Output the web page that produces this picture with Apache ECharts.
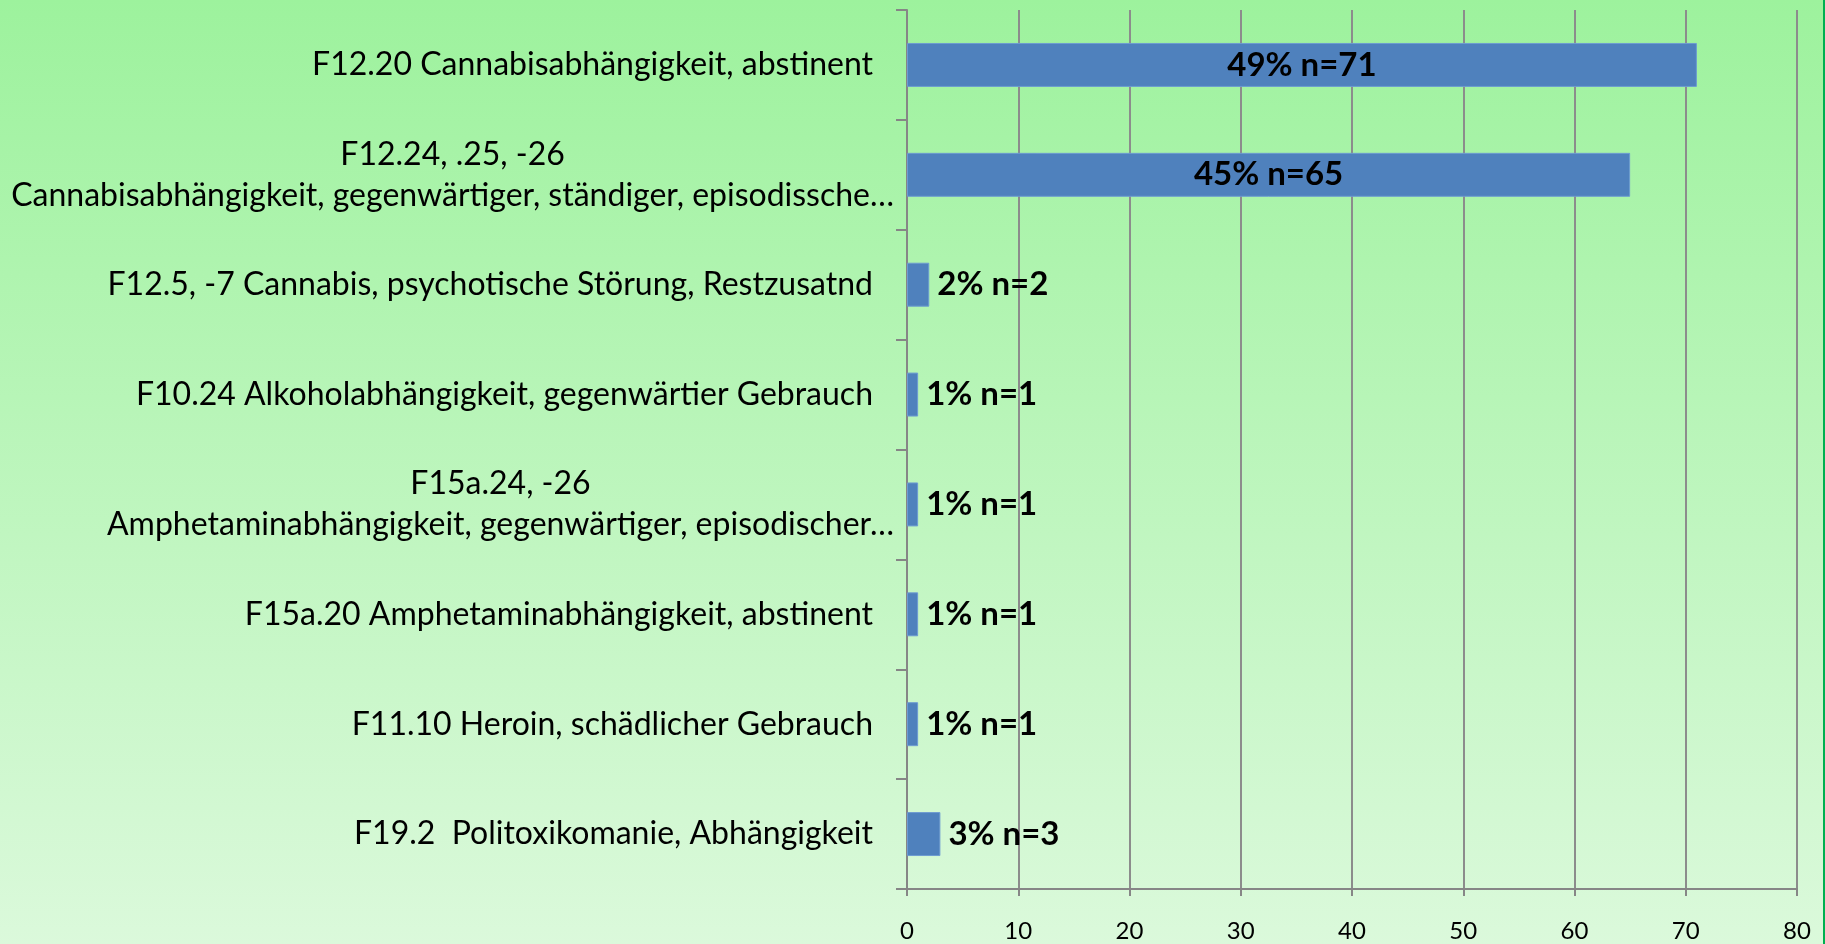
<!DOCTYPE html>
<html>
<head>
<meta charset="utf-8">
<script src="https://cdn.jsdelivr.net/npm/echarts@6/dist/echarts.min.js"></script>
<style>
  html, body { margin: 0; padding: 0; }
  body { width: 1825px; height: 944px; overflow: hidden;
         background: linear-gradient(to bottom, rgb(157,242,157) 0%, rgb(219,249,219) 100%); }
  #wrap { width: 1823px; height: 944px; border-right: 2px solid #00b050; }
  #chart { width: 1823px; height: 944px; }
</style>
</head>
<body>
<div id="wrap"><div id="chart"></div></div>
<script>
const categories = [
  'F12.20 Cannabisabhängigkeit, abstinent',
  'F12.24, .25, -26\nCannabisabhängigkeit, gegenwärtiger, ständiger, episodissche…',
  'F12.5, -7 Cannabis, psychotische Störung, Restzusatnd',
  'F10.24 Alkoholabhängigkeit, gegenwärtier Gebrauch',
  'F15a.24, -26\nAmphetaminabhängigkeit, gegenwärtiger, episodischer…',
  'F15a.20 Amphetaminabhängigkeit, abstinent',
  'F11.10 Heroin, schädlicher Gebrauch',
  'F19.2  Politoxikomanie, Abhängigkeit'
];
const counts = [71, 65, 2, 1, 1, 1, 1, 3];
const percents = ['49%', '45%', '2%', '1%', '1%', '1%', '1%', '3%'];
const xMin = 0, xMax = 80, xStep = 10;

const chart = echarts.init(document.getElementById('chart'), null, { renderer: 'canvas' });
const FONT = 'Lato, "Open Sans", sans-serif';
const LABEL_SIZE = 32;

const seriesData = counts.map(function (v) {
  return { value: v, label: { position: v > 10 ? 'inside' : 'right' } };
});

chart.setOption({
  animation: false,
  backgroundColor: 'transparent',
  grid: { left: 907, top: 10, right: 26, bottom: 55, containLabel: false },
  xAxis: {
    type: 'value', min: xMin, max: xMax, interval: xStep,
    axisLine: { show: true, lineStyle: { color: '#868686', width: 2 } },
    axisTick: { show: true, length: 7, lineStyle: { color: '#868686', width: 2 } },
    splitLine: { show: true, lineStyle: { color: '#8c8c8c', width: 2 } },
    axisLabel: { color: '#000', fontFamily: FONT, fontSize: 24, margin: 30 }
  },
  yAxis: {
    type: 'category', inverse: true, data: categories,
    axisLine: { show: true, lineStyle: { color: '#868686', width: 2 } },
    axisTick: { show: true, length: 11, lineStyle: { color: '#868686', width: 2 } },
    splitLine: { show: false },
    axisLabel: {
      margin: 13, align: 'right', color: '#000', fontFamily: FONT, fontSize: LABEL_SIZE,
      lineHeight: 41,
      formatter: function (val) {
        const lines = val.split('\n');
        if (lines.length === 1) return '{s|' + val + '}';
        return lines.map(function (l) { return '{c|' + l + '}'; }).join('\n');
      },
      rich: {
        s: { fontFamily: FONT, fontSize: LABEL_SIZE, color: '#000', padding: [0, 21, 0, 0], lineHeight: 41 },
        c: { fontFamily: FONT, fontSize: LABEL_SIZE, color: '#000', align: 'center', lineHeight: 41 }
      }
    }
  },
  series: [{
    type: 'bar',
    data: seriesData,
    barWidth: '40%',
    itemStyle: { color: '#4f81bd', borderColor: '#6d9bd1', borderWidth: 1 },
    label: {
      show: true, distance: 8, color: '#000', fontFamily: FONT, fontWeight: 'bold', fontSize: 33,
      formatter: function (p) { return percents[p.dataIndex] + ' n=' + counts[p.dataIndex]; }
    }
  }]
});
</script>
</body>
</html>
